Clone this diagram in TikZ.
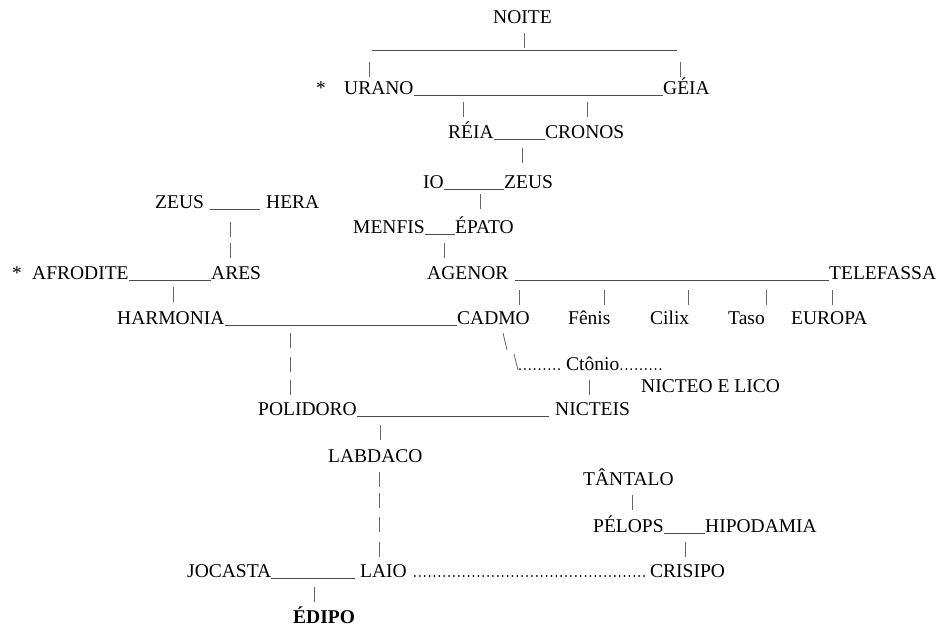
\documentclass[tikz,border=0pt]{standalone}
\usepackage{fontspec}
\setmainfont{Liberation Serif}
\usepackage{tikz}
\usetikzlibrary{positioning}

\tikzset{
  gen/.style={anchor=base west, inner sep=0pt, font=\fontsize{19.5}{23}\selectfont},
  bar/.style={line width=0.9pt, black!70, transform canvas={yshift=-1.6pt}},
  pipe/.style={line width=0.8pt, black!60},
  dotline/.style={line width=2pt, line cap=round, dash pattern=on 0pt off 4.875pt, transform canvas={yshift=1pt}}
}

\begin{document}
\begin{tikzpicture}[x=1pt, y=-1pt]
        \useasboundingbox (0,0) rectangle (940,627);
        % names
        \node[gen] (noite) at (493,23) {NOITE};
        \node[gen] (star1) at (316,94) {*};
        \node[gen] (urano) at (344,94) {URANO};
        \node[gen] (geia) at (663,94) {GÉIA};
        \node[gen] (reia) at (448,138) {RÉIA};
        \node[gen] (cronos) at (545,138) {CRONOS};
        \node[gen] (io) at (423,188) {IO};
        \node[gen] (zeusB) at (504,188) {ZEUS};
        \node[gen] (zeusA) at (155,208) {ZEUS};
        \node[gen] (hera) at (266,208) {HERA};
        \node[gen] (menfis) at (353,233) {MENFIS};
        \node[gen] (epato) at (455,233) {ÉPATO};
        \node[gen] (star2) at (12,279) {*};
        \node[gen] (afrodite) at (32,279) {AFRODITE};
        \node[gen] (ares) at (211,279) {ARES};
        \node[gen] (agenor) at (427,279) {AGENOR};
        \node[gen] (telefassa) at (829,279) {TELEFASSA};
        \node[gen] (harmonia) at (117,324) {HARMONIA};
        \node[gen] (cadmo) at (457,324) {CADMO};
        \node[gen] (fenis) at (568,324) {Fênis};
        \node[gen] (cilix) at (650,324) {Cilix};
        \node[gen] (taso) at (728,324) {Taso};
        \node[gen] (europa) at (791,324) {EUROPA};
        \node[gen] (ctonio) at (566,370) {Ctônio};
        \node[gen] (nicteo) at (641,392) {NICTEO E LICO};
        \node[gen] (polidoro) at (258,415) {POLIDORO};
        \node[gen] (nicteis) at (555,415) {NICTEIS};
        \node[gen] (labdaco) at (328,462) {LABDACO};
        \node[gen] (tantalo) at (583,485) {TÂNTALO};
        \node[gen] (pelops) at (593,532) {PÉLOPS};
        \node[gen] (hipodamia) at (705,532) {HIPODAMIA};
        \node[gen] (jocasta) at (187,577) {JOCASTA};
        \node[gen] (laio) at (360,577) {LAIO};
        \node[gen] (crisipo) at (650,577) {CRISIPO};
        \node[gen, font=\fontsize{19.5}{23}\selectfont\bfseries] (edipo) at (293,623) {ÉDIPO};
        % marriages
        \coordinate (n1) at (372,49);
        \coordinate (n2) at (677,49);
        \draw[bar] (n1) -- (n2);
        \draw[bar] (urano.base east) -- (geia.base west);
        \draw[bar] (reia.base east) -- (cronos.base west);
        \draw[bar] (io.base east) -- (zeusB.base west);
        \draw[bar, shorten <=6pt, shorten >=6pt] (zeusA.base east) -- (hera.base west);
        \draw[bar] (menfis.base east) -- (epato.base west);
        \draw[bar] (afrodite.base east) -- (ares.base west);
        \draw[bar, shorten <=6pt] (agenor.base east) -- (telefassa.base west);
        \draw[bar] (harmonia.base east) -- (cadmo.base west);
        \draw[bar, shorten >=6pt] (polidoro.base east) -- (nicteis.base west);
        \draw[bar] (pelops.base east) -- (hipodamia.base west);
        \draw[bar, shorten >=5pt] (jocasta.base east) -- (laio.base west);
        % descent
        \foreach \x/\y [count=\i] in {524/33, 369/62, 680/62, 463/102, 587/102, 522/148, 480/194,
            444/243, 230/222, 230/243, 173/287, 519/290, 604/290, 688/290, 766/290, 832/290,
            290/333, 290/357, 290/380, 589/380, 380/425, 379/472, 379/493, 379/517, 379/542,
            632/495, 685/542, 314/587}
            {\coordinate (p\i) at (\x,\y);
             \draw[pipe] (p\i) -- ++(0,15);}
        \coordinate (b1) at (503,333);
        \coordinate (b2) at (507,350);
        \coordinate (b3) at (514,354);
        \coordinate (b4) at (518,370);
        \draw[pipe] (b1) -- (b2);
        \draw[pipe] (b3) -- (b4);
        \coordinate (ct) at (664,370);
        \draw[dotline, shorten <=2pt, shorten >=6pt] (b4) -- (ctonio.base west);
        \draw[dotline, shorten <=2pt] (ctonio.base east) -- (ct);
        \draw[dotline, shorten <=8pt, shorten >=2pt] (laio.base east) -- (crisipo.base west);
\end{tikzpicture}
\end{document}
